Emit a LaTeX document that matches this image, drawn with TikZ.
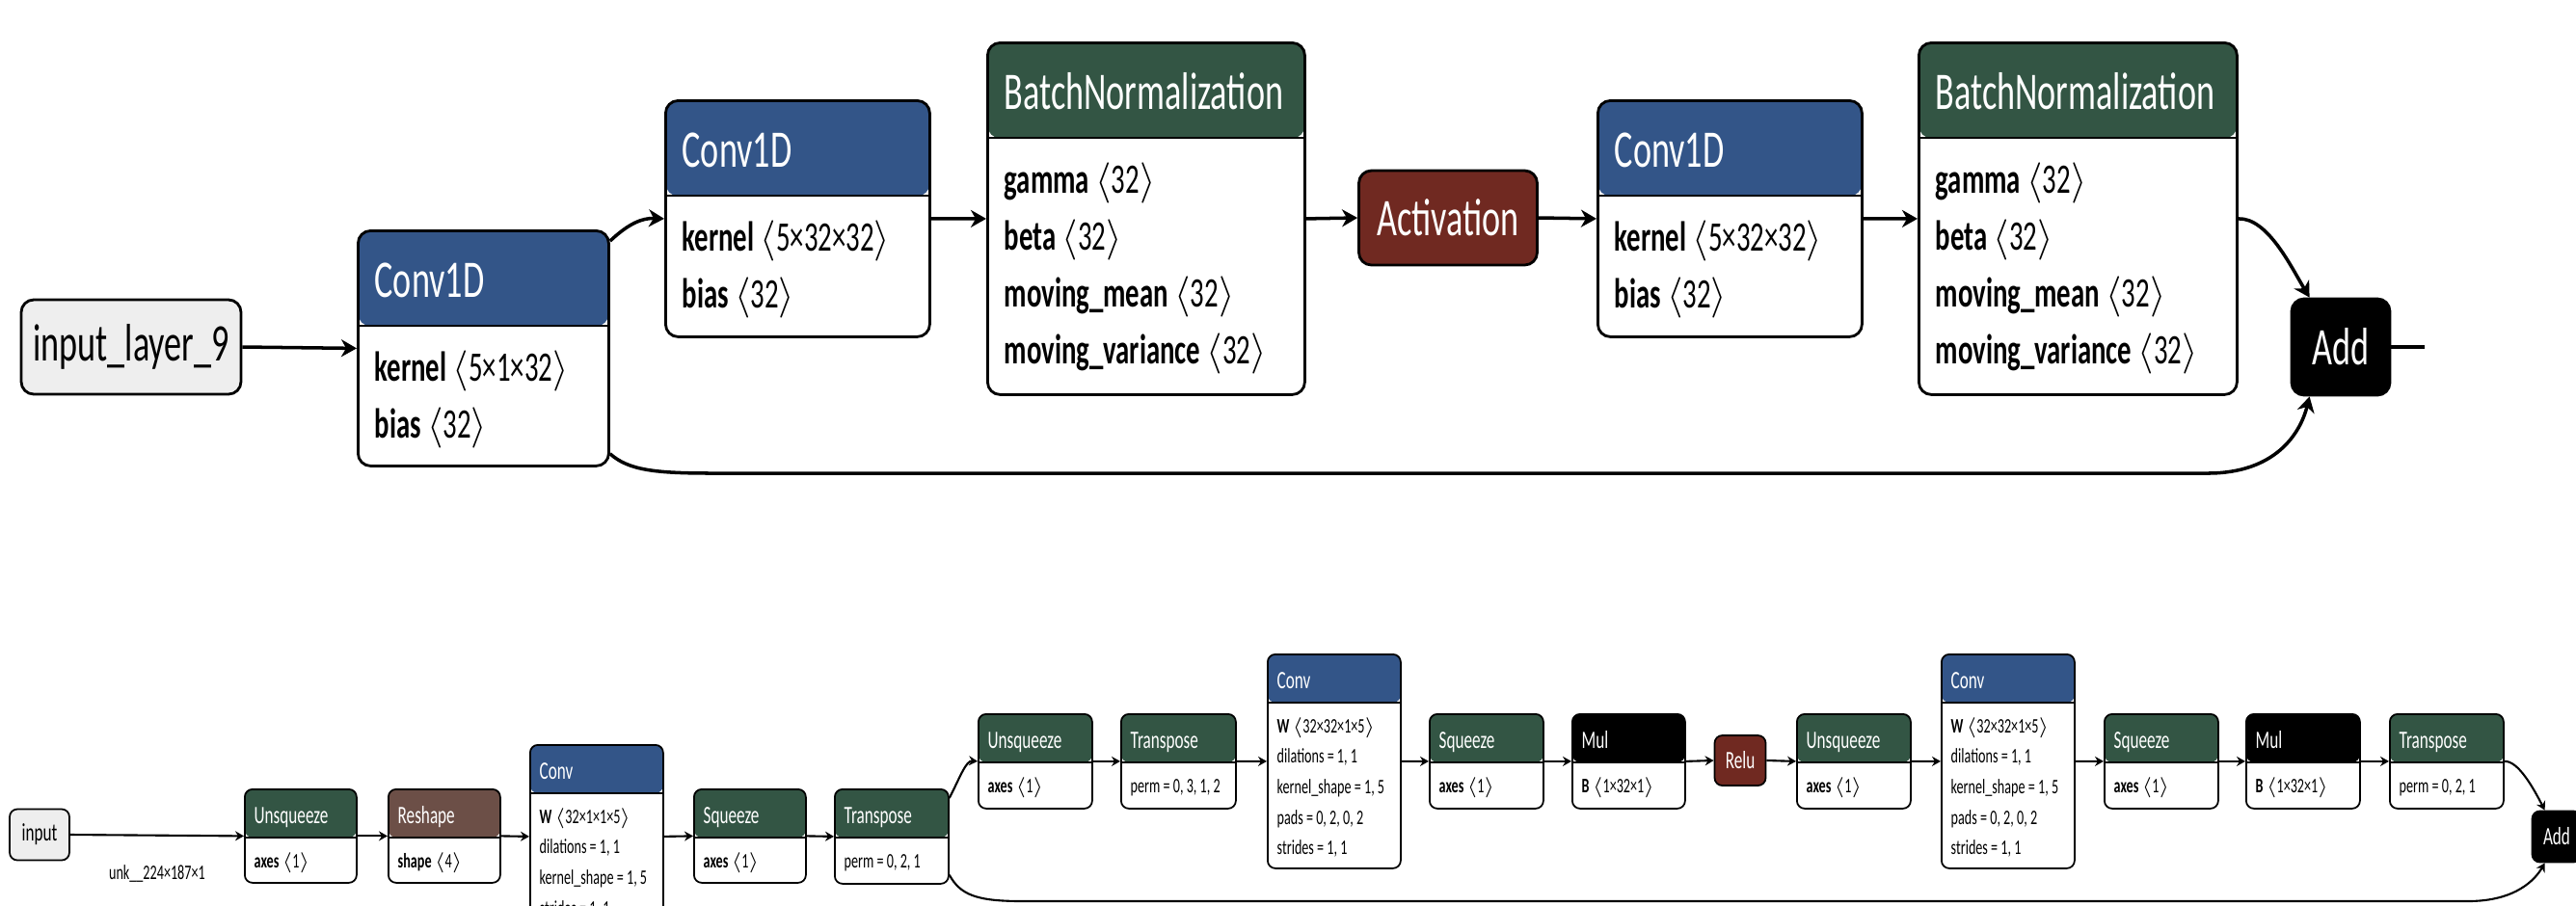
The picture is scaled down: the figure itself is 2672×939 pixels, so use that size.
\documentclass[tikz,border=0pt]{standalone}
\usepackage{fontspec}
\setmainfont{Carlito}[FakeStretch=0.66]
\usetikzlibrary{arrows.meta}

\definecolor{layer}{RGB}{51,85,136}
\definecolor{norm}{RGB}{51,85,68}
\definecolor{actv}{RGB}{112,41,33}
\definecolor{shp}{RGB}{108,79,71}
\definecolor{inpt}{RGB}{238,238,238}

\newcommand{\tbig}{\fontsize{15.6}{18}\selectfont}
\newcommand{\abig}{\fontsize{12.4}{15}\selectfont}
\newcommand{\tsml}{\fontsize{7.4}{9}\selectfont}
\newcommand{\asml}{\fontsize{6.1}{7.5}\selectfont}
\newcommand{\dims}[2]{\textbf{#1}~$\langle$#2$\rangle$}

\newcommand{\bigtitle}[2]{\node [txt, text=white, font=\tbig] (#1-t) at ([shift={(18,70)}]#1.north west) {#2};}
\newcommand{\bigrows}[2]{\foreach \att [count=\i from 0] in {#2}
	\node [txt, font=\abig] (#1-\i) at ([shift={(18,{157+59*\i})}]#1.north west) {\att};}
\newcommand{\smltitle}[2]{\node [txt, text=white, font=\tsml] (#1-t) at ([shift={(10,36)}]#1.north west) {#2};}
\newcommand{\smlrows}[2]{\foreach \att [count=\i from 0] in {#2}
	\node [txt, font=\asml] (#1-\i) at ([shift={(10,{82+31.7*\i})}]#1.north west) {\att};}

\begin{document}
\begin{tikzpicture}[x=0.1mm, y=-0.1mm,
		opbig/.style={draw, fill=white, line width=0.8pt, rounded corners=1.3mm, anchor=north west, inner sep=0pt},
		opsml/.style={draw, fill=white, line width=0.5pt, rounded corners=0.8mm, anchor=north west, inner sep=0pt},
		hdr/.style 2 args={path picture={
			\fill [#1] (path picture bounding box.north west) rectangle ([yshift=-#2]path picture bounding box.north east);
			\draw [line width=0.6pt] ([yshift=-#2]path picture bounding box.north west) -- ([yshift=-#2]path picture bounding box.north east);}},
		pill/.style={draw, line width=0.8pt, rounded corners=1.3mm, inner sep=0pt, font=\tbig},
		spill/.style={draw, line width=0.5pt, rounded corners=0.8mm, inner sep=0pt, font=\tsml},
		txt/.style={anchor=base west, inner sep=0pt},
		edge/.style={-{Stealth[length=1.6mm, width=1.8mm, inset=0.5mm]}, line width=1pt},
		sedge/.style={-{Stealth[length=0.9mm, width=1mm, inset=0.3mm]}, line width=0.6pt}]
		\useasboundingbox (0, 0) rectangle (2672, 939);
		\clip (0, 0) rectangle (2672, 939);

		\node [pill, fill=inpt, minimum width=22.8mm, minimum height=9.8mm] (inl) at (136, 360) {input\_layer\_9};
		\node [opbig, hdr={layer}{9.9mm}, minimum width=26mm, minimum height=24.4mm] (c1) at (370, 238) {};
		\bigtitle{c1}{Conv1D}
		\bigrows{c1}{\dims{kernel}{5×1×32}, \dims{bias}{32}}
		\node [opbig, hdr={layer}{9.9mm}, minimum width=27.4mm, minimum height=24.5mm] (c2) at (689, 103) {};
		\bigtitle{c2}{Conv1D}
		\bigrows{c2}{\dims{kernel}{5×32×32}, \dims{bias}{32}}
		\node [opbig, hdr={norm}{9.9mm}, minimum width=32.9mm, minimum height=36.5mm] (bn1) at (1023, 43) {};
		\bigtitle{bn1}{BatchNormalization}
		\bigrows{bn1}{\dims{gamma}{32}, \dims{beta}{32}, \dims{moving\_mean}{32}, \dims{moving\_variance}{32}}
		\node [pill, fill=actv, text=white, minimum width=18.5mm, minimum height=9.8mm] (act) at (1502, 226) {Activation};
		\node [opbig, hdr={layer}{9.9mm}, minimum width=27.4mm, minimum height=24.5mm] (c3) at (1656, 103) {};
		\bigtitle{c3}{Conv1D}
		\bigrows{c3}{\dims{kernel}{5×32×32}, \dims{bias}{32}}
		\node [opbig, hdr={norm}{9.9mm}, minimum width=33mm, minimum height=36.5mm] (bn2) at (1989, 43) {};
		\bigtitle{bn2}{BatchNormalization}
		\bigrows{bn2}{\dims{gamma}{32}, \dims{beta}{32}, \dims{moving\_mean}{32}, \dims{moving\_variance}{32}}
		\node [pill, fill=black, text=white, minimum width=10.2mm, minimum height=10mm] (add1) at (2428, 360) {Add};
		\coordinate (out1) at (2515, 360);

		\draw [edge] (inl.east) -- (c1.west);
		\draw [edge] ([yshift=-1.2mm]c1.north east) .. controls (652, 232) and (666, 226) .. (c2.west);
		\draw [edge] (c2.east) -- (bn1.west);
		\draw [edge] (bn1.east) -- (act.west);
		\draw [edge] (act.east) -- (c3.west);
		\draw [edge] (c3.east) -- (bn2.west);
		\draw [edge] (bn2.east) .. controls (2352, 226) and (2376, 276) .. ([xshift=2mm]add1.north west);
		\draw [edge] ([yshift=1.4mm]c1.south east) .. controls (652, 488) and (680, 491) .. (740, 491) -- (2290, 491) .. controls (2360, 491) and (2386, 450) .. ([xshift=2mm]add1.south west);
		\draw [line width=1pt] (add1.east) -- (out1);

		\node [spill, fill=inpt, minimum width=6.2mm, minimum height=5.3mm] (inp) at (41, 866) {input};
		\node [opsml, hdr={norm}{5mm}, minimum width=11.6mm, minimum height=9.7mm] (u1) at (253, 818) {};
		\smltitle{u1}{Unsqueeze}
		\smlrows{u1}{\dims{axes}{1}}
		\node [opsml, hdr={shp}{5mm}, minimum width=11.6mm, minimum height=9.7mm] (rs) at (402, 818) {};
		\smltitle{rs}{Reshape}
		\smlrows{rs}{\dims{shape}{4}}
		\node [opsml, hdr={layer}{5mm}, minimum width=13.8mm, minimum height=19mm] (cv1) at (549, 772) {};
		\smltitle{cv1}{Conv}
		\smlrows{cv1}{\dims{W}{32×1×1×5}, {dilations = 1, 1}, {kernel\_shape = 1, 5}, {strides = 1, 1}}
		\node [opsml, hdr={norm}{5mm}, minimum width=11.6mm, minimum height=9.7mm] (sq1) at (719, 818) {};
		\smltitle{sq1}{Squeeze}
		\smlrows{sq1}{\dims{axes}{1}}
		\node [opsml, hdr={norm}{5mm}, minimum width=11.8mm, minimum height=9.8mm] (tp1) at (865, 818) {};
		\smltitle{tp1}{Transpose}
		\smlrows{tp1}{{perm = 0, 2, 1}}
		\node [opsml, hdr={norm}{5mm}, minimum width=11.8mm, minimum height=9.8mm] (u2) at (1014, 740) {};
		\smltitle{u2}{Unsqueeze}
		\smlrows{u2}{\dims{axes}{1}}
		\node [opsml, hdr={norm}{5mm}, minimum width=11.9mm, minimum height=9.8mm] (tp2) at (1162, 740) {};
		\smltitle{tp2}{Transpose}
		\smlrows{tp2}{{perm = 0, 3, 1, 2}}
		\node [opsml, hdr={layer}{5mm}, minimum width=13.8mm, minimum height=22.2mm] (cv2) at (1314, 678) {};
		\smltitle{cv2}{Conv}
		\smlrows{cv2}{\dims{W}{32×32×1×5}, {dilations = 1, 1}, {kernel\_shape = 1, 5}, {pads = 0, 2, 0, 2}, {strides = 1, 1}}
		\node [opsml, hdr={norm}{5mm}, minimum width=11.8mm, minimum height=9.8mm] (sq2) at (1482, 740) {};
		\smltitle{sq2}{Squeeze}
		\smlrows{sq2}{\dims{axes}{1}}
		\node [opsml, hdr={black}{5mm}, minimum width=11.7mm, minimum height=9.8mm] (mul1) at (1630, 740) {};
		\smltitle{mul1}{Mul}
		\smlrows{mul1}{\dims{B}{1×32×1}}
		\node [spill, fill=actv, text=white, minimum width=5.3mm, minimum height=5.2mm] (relu) at (1805, 789) {Relu};
		\node [opsml, hdr={norm}{5mm}, minimum width=11.8mm, minimum height=9.8mm] (u3) at (1863, 740) {};
		\smltitle{u3}{Unsqueeze}
		\smlrows{u3}{\dims{axes}{1}}
		\node [opsml, hdr={layer}{5mm}, minimum width=13.8mm, minimum height=22.2mm] (cv3) at (2013, 678) {};
		\smltitle{cv3}{Conv}
		\smlrows{cv3}{\dims{W}{32×32×1×5}, {dilations = 1, 1}, {kernel\_shape = 1, 5}, {pads = 0, 2, 0, 2}, {strides = 1, 1}}
		\node [opsml, hdr={norm}{5mm}, minimum width=11.8mm, minimum height=9.8mm] (sq3) at (2182, 740) {};
		\smltitle{sq3}{Squeeze}
		\smlrows{sq3}{\dims{axes}{1}}
		\node [opsml, hdr={black}{5mm}, minimum width=11.8mm, minimum height=9.8mm] (mul2) at (2329, 740) {};
		\smltitle{mul2}{Mul}
		\smlrows{mul2}{\dims{B}{1×32×1}}
		\node [opsml, hdr={norm}{5mm}, minimum width=11.8mm, minimum height=9.8mm] (tp3) at (2478, 740) {};
		\smltitle{tp3}{Transpose}
		\smlrows{tp3}{{perm = 0, 2, 1}}
		\node [spill, fill=black, text=white, minimum width=5.1mm, minimum height=5.3mm] (add2) at (2652, 868) {Add};

		\draw [sedge] (inp.east) -- (u1.west) node [pos=0.5, below=3mm, font=\asml, inner sep=0pt] (lbl) {unk\_\_224×187×1};
		\draw [sedge] (u1.east) -- (rs.west);
		\draw [sedge] (rs.east) -- (cv1.west);
		\draw [sedge] (cv1.east) -- (sq1.west);
		\draw [sedge] (sq1.east) -- (tp1.west);
		\draw [sedge] ([yshift=-1mm]tp1.north east) .. controls (996, 806) and (1002, 789) .. (u2.west);
		\draw [sedge] (u2.east) -- (tp2.west);
		\draw [sedge] (tp2.east) -- (cv2.west);
		\draw [sedge] (cv2.east) -- (sq2.west);
		\draw [sedge] (sq2.east) -- (mul1.west);
		\draw [sedge] (mul1.east) -- (relu.west);
		\draw [sedge] (relu.east) -- (u3.west);
		\draw [sedge] (u3.east) -- (cv3.west);
		\draw [sedge] (cv3.east) -- (sq3.west);
		\draw [sedge] (sq3.east) -- (mul2.west);
		\draw [sedge] (mul2.east) -- (tp3.west);
		\draw [sedge] (tp3.east) .. controls (2612, 789) and (2628, 818) .. ([xshift=1.4mm]add2.north west);
		\draw [sedge] ([yshift=1mm]tp1.south east) .. controls (996, 928) and (1012, 935) .. (1060, 935) -- (2560, 935) .. controls (2610, 935) and (2630, 912) .. ([xshift=1.4mm]add2.south west);
	\end{tikzpicture}
\end{document}
